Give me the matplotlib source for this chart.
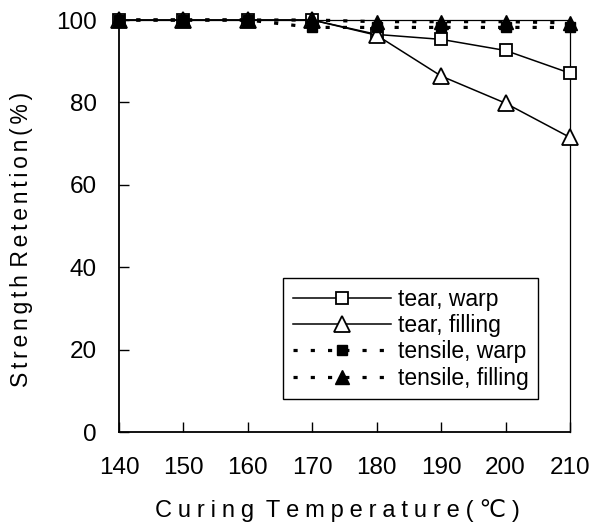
import matplotlib
matplotlib.use("Agg")
import matplotlib.pyplot as plt

plt.rcParams['font.family'] = ['Liberation Sans', 'DejaVu Sans', 'Noto Sans CJK SC']

temps = [140, 150, 160, 170, 180, 190, 200, 210]
tear_warp = [100, 100, 100, 100, 96.5, 95.3, 92.6, 87.1]
tear_filling = [100, 100, 100, 100, 96.3, 86.4, 79.8, 71.5]
tensile_warp = [100, 100, 100, 98.2, 98.2, 98.2, 98.2, 98.2]
tensile_filling = [100, 100, 100, 100, 99.6, 99.6, 99.6, 99.3]

xticks = [140, 150, 160, 170, 180, 190, 200, 210]
yticks = [0, 20, 40, 60, 80, 100]


def spread(s, gap):
    # widen letter spacing by putting a spacer between every character
    words = s.split(" ")
    return (gap * 2).join(gap.join(w) for w in words)


fig = plt.figure(figsize=(5.93, 5.25), dpi=100)
ax = fig.add_axes([0.2007, 0.1771, 0.7605, 0.7848])

dots = (0, (1.3, 4.1))
ax.plot(temps, tear_warp, linestyle='-', color='black', lw=1.1,
        marker='s', ms=9, mfc='white', mec='black', mew=1.3, clip_on=False,
        label='tear, warp', zorder=3)
ax.plot(temps, tear_filling, linestyle='-', color='black', lw=1.1,
        marker='^', ms=12, mfc='white', mec='black', mew=1.3, clip_on=False,
        label='tear, filling', zorder=3)
ax.plot(temps, tensile_warp, linestyle=dots, color='black', lw=2.3,
        marker='s', ms=7.5, mfc='black', mec='black', clip_on=False,
        label='tensile, warp', zorder=4)
ax.plot(temps, tensile_filling, linestyle=dots, color='black', lw=2.3,
        marker='^', ms=10, mfc='black', mec='black', clip_on=False,
        label='tensile, filling', zorder=4)

ax.set_xlim(140, 210)
ax.set_ylim(0, 100)
ax.set_xticks(xticks)
ax.set_yticks(yticks)
ax.tick_params(direction='in', length=7, width=1, labelsize=17.5)
ax.tick_params(axis='x', pad=18)
ax.tick_params(axis='y', pad=16)
for s in ax.spines.values():
    s.set_linewidth(1.3)
ax.spines['top'].set_linewidth(0.9)
ax.spines['right'].set_linewidth(0.9)

ax.set_xlabel(spread("Curing Temperature(℃)", "\u2005"), fontsize=17, va='baseline')
ax.set_ylabel(spread("Strength Retention(%)", "\u2006"), fontsize=16.5, va='baseline')
ax.xaxis.set_label_coords(0.4845, -0.2063)
ax.yaxis.set_label_coords(-0.2018, 0.4684)

leg = ax.legend(loc='lower right', bbox_to_anchor=(0.929, 0.08),
                borderaxespad=0, fontsize=16.5, handlelength=4.3,
                handletextpad=0.3, labelspacing=0.15, borderpad=0.4,
                numpoints=1, fancybox=False, framealpha=1, edgecolor='black')
leg.get_frame().set_linewidth(1.0)

fig.savefig("out.png", dpi=100)
